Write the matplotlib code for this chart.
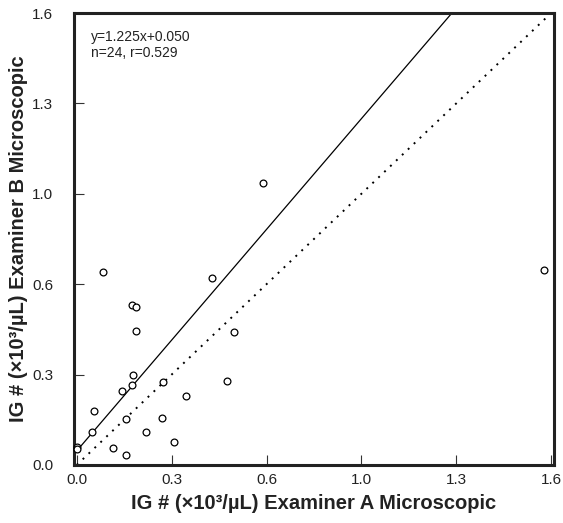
import numpy as np
import matplotlib.pyplot as plt
from matplotlib.ticker import FormatStrFormatter

plt.rcParams['font.family'] = ['Liberation Sans', 'DejaVu Sans']

# examiner A (x) vs examiner B (y), IG count x10^3/uL
exam_a = [1.576, 0.628, 0.088, 0.457, 0.185, 0.200, 0.200, 0.532,
          0.189, 0.185, 0.153, 0.292, 0.506, 0.369, 0.057, 0.165,
          0.289, 0.050, 0.233, 0.329, 0.123, 0.165, 0.000, 0.000]
exam_b = [0.690, 0.998, 0.682, 0.663, 0.567, 0.559, 0.474, 0.471,
          0.318, 0.283, 0.261, 0.292, 0.299, 0.244, 0.191, 0.164,
          0.168, 0.118, 0.117, 0.080, 0.061, 0.035, 0.062, 0.055]

slope, intercept = 1.225, 0.050
n_pts, r_val = 24, 0.529
ticks = [0.0, 0.32, 0.64, 0.96, 1.28, 1.6]

fig = plt.figure(figsize=(5.63, 5.23), dpi=100)
ax = fig.add_axes([0.1306, 0.111, 0.8535, 0.864])

# identity line and regression line
ax.plot([0, 1.6], [0, 1.6], linestyle=(0, (1, 3.2)), color='black', lw=1.4)
xl = np.array([-0.02, 1.7])
ax.plot(xl, slope * xl + intercept, color='black', lw=0.9)

ax.scatter(exam_a, exam_b, s=24, facecolors='white', edgecolors='black',
           linewidths=0.9, zorder=3, clip_on=False)

ax.set_xlim(-0.011, 1.61)
ax.set_ylim(0, 1.6)
ax.set_xticks(ticks)
ax.set_yticks(ticks)
ax.xaxis.set_major_formatter(FormatStrFormatter('%.1f'))
ax.yaxis.set_major_formatter(FormatStrFormatter('%.1f'))
ax.tick_params(direction='in', length=7, width=0.8, labelsize=11,
               colors='#333333', labelcolor='#222222')
ax.tick_params(axis='x', pad=6)
ax.tick_params(axis='y', pad=14.5)
for sp in ax.spines.values():
    sp.set_linewidth(2.2)
    sp.set_color('#222222')

ax.text(0.036, 0.962, 'y=%.3fx+%.3f\nn=%d, r=%.3f' % (slope, intercept, n_pts, r_val),
        transform=ax.transAxes, fontsize=10, va='top', ha='left', color='#222222')

ax.set_xlabel('IG # (\u00d710\u00b3/\u00b5L) Examiner A Microscopic', fontsize=14.5,
              fontweight='bold', color='#222222')
ax.set_ylabel('IG # (\u00d710\u00b3/\u00b5L) Examiner B Microscopic', fontsize=14.5,
              fontweight='bold', color='#222222')
ax.xaxis.set_label_coords(0.5, -0.064)
ax.yaxis.set_label_coords(-0.095, 0.5)

fig.savefig('out.png', dpi=100)
